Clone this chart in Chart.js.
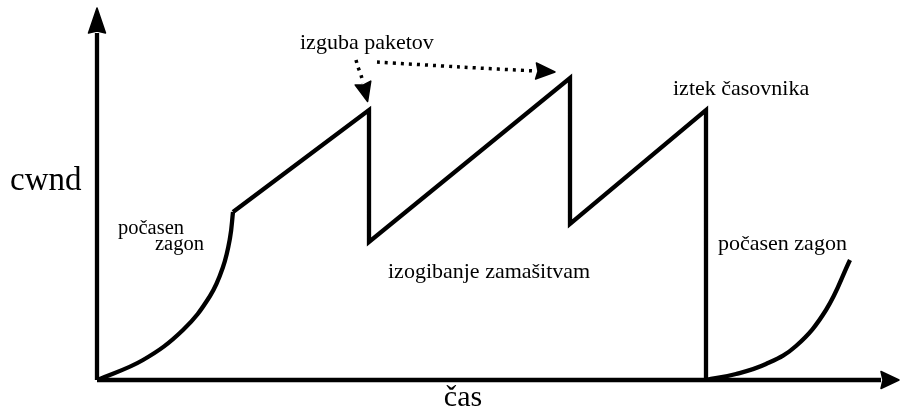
<!DOCTYPE html>
<html>
<head>
<meta charset="utf-8">
<script src="https://cdn.jsdelivr.net/npm/chart.js@4"></script>
<style>
  body { margin: 0; background: #fff; }
  #graf { display: block; }
</style>
</head>
<body>
<canvas id="graf" width="900" height="416"></canvas>
<script>
// cas (t) in cwnd (c), poljubne enote
const pocasenZagon1T = [0, 4.6, 8.6, 11.3, 12.6, 13.3, 13.6];
const pocasenZagon1C = [0, 2.0, 5.0, 8.4, 11.3, 14.2, 16.8];

const zagaT = [13.6, 27.2, 27.2, 47.3, 47.3, 60.9, 60.9];
const zagaC = [16.8, 27.0, 13.8, 30.2, 15.6, 27.0, 0];

const pocasenZagon2T = [60.9, 63.9, 66.9, 69.9, 72.9, 75.3];
const pocasenZagon2C = [0, 0.6, 1.6, 3.4, 7.0, 12.0];

const izgubaT1 = [25.9, 26.1, 26.4, 26.6];
const izgubaC1 = [32.0, 31.3, 30.5, 29.7];
const izgubaT2 = [28.0, 36.3, 43.9];
const izgubaC2 = [31.8, 31.3, 30.9];

const osXT = [0, 78.4];
const osXC = [0, 0];
const osYT = [0, 0];
const osYC = [0, 34.7];

const napisi = ["izguba paketov", "iztek časovnika", "izogibanje zamašitvam",
                "počasen", "zagon", "počasen zagon", "cwnd", "čas"];
const napisiT = [20.3, 57.6, 29.1, 2.1, 5.8, 62.1, -8.7, 36.6];
const napisiC = [33.1, 28.5, 10.2, 14.6, 13.0, 13.0, 19.0, -2.6];
const napisiVel = [22, 22, 22, 20.5, 20.5, 22, 33, 30];

const tocke = (ts, cs) => ts.map((t, i) => ({ x: t, y: cs[i] }));

const crta = (ts, cs, extra) => Object.assign({
    data: tocke(ts, cs),
    showLine: true,
    borderColor: "#000",
    backgroundColor: "#000",
    borderWidth: 4.3,
    pointRadius: 0,
    fill: false,
    clip: false,
    tension: 0,
}, extra);

const puscice = {
    id: "puscice",
    afterDatasetsDraw(chart) {
        const ctx = chart.ctx;
        chart.data.datasets.forEach((ds, i) => {
            if (!ds.puscica) return;
            const pts = chart.getDatasetMeta(i).data;
            const a = pts[pts.length - 2];
            const b = pts[pts.length - 1];
            const dx = b.x - a.x, dy = b.y - a.y;
            const d = Math.hypot(dx, dy);
            const ux = dx / d, uy = dy / d;
            const L = ds.puscica.dolzina, W = ds.puscica.sirina;
            ctx.save();
            ctx.fillStyle = "#000";
            ctx.strokeStyle = "#000";
            ctx.lineWidth = 1.5;
            ctx.lineJoin = "round";
            ctx.beginPath();
            ctx.moveTo(b.x + ux * L, b.y + uy * L);
            ctx.lineTo(b.x - uy * W, b.y + ux * W);
            ctx.lineTo(b.x + ux * 2, b.y + uy * 2);
            ctx.lineTo(b.x + uy * W, b.y - ux * W);
            ctx.closePath();
            ctx.fill();
            ctx.stroke();
            ctx.restore();
        });
    },
};

const besedila = {
    id: "besedila",
    afterDraw(chart) {
        const ctx = chart.ctx;
        const sx = chart.scales.x, sy = chart.scales.y;
        ctx.save();
        ctx.fillStyle = "#000";
        ctx.textBaseline = "alphabetic";
        napisi.forEach((txt, i) => {
            ctx.font = napisiVel[i] + "px 'Liberation Serif', serif";
            ctx.textAlign = i === 7 ? "center" : "left";
            ctx.fillText(txt, sx.getPixelForValue(napisiT[i]), sy.getPixelForValue(napisiC[i]));
        });
        ctx.restore();
    },
};

const config = {
    type: "scatter",
    data: {
        datasets: [
            crta(osXT, osXC, { puscica: { dolzina: 18, sirina: 8.5 } }),
            crta(osYT, osYC, { puscica: { dolzina: 25, sirina: 8.5 } }),
            crta(pocasenZagon1T, pocasenZagon1C, { tension: 0.4 }),
            crta(zagaT, zagaC, { borderJoinStyle: "miter" }),
            crta(pocasenZagon2T, pocasenZagon2C, { tension: 0.4 }),
            crta(izgubaT1, izgubaC1, { borderWidth: 3.5, borderDash: [3, 5], tension: 0.3,
                puscica: { dolzina: 19, sirina: 8 } }),
            crta(izgubaT2, izgubaC2, { borderWidth: 3.5, borderDash: [3, 5], tension: 0.3,
                puscica: { dolzina: 19, sirina: 8 } }),
        ],
    },
    options: {
        responsive: false,
        animation: false,
        layout: { padding: 0 },
        plugins: {
            legend: { display: false },
            tooltip: { enabled: false },
        },
        scales: {
            x: { type: "linear", display: false, min: -9.7, max: 80.3 },
            y: { type: "linear", display: false, min: -3.6, max: 38 },
        },
    },
    plugins: [puscice, besedila],
};

const graf = new Chart(document.getElementById("graf"), config);
</script>
</body>
</html>
